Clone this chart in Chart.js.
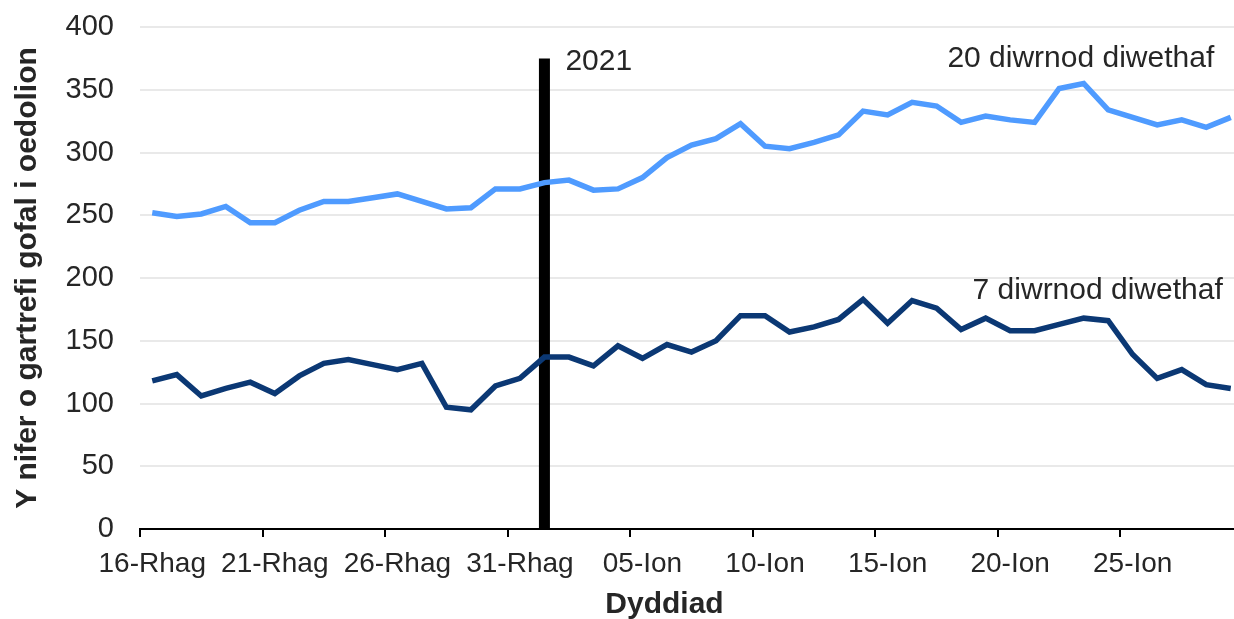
<!DOCTYPE html>
<html lang="cy">
<head>
    <meta charset="UTF-8">
    <title>Cartrefi gofal i oedolion</title>
    <script src="https://cdn.jsdelivr.net/npm/chart.js"></script>
    <style>
        html, body { margin: 0; padding: 0; background: #fff; overflow: hidden; }
        #wrap { position: relative; width: 1234px; height: 619px; overflow: hidden; }
        canvas { display: block; }
    </style>
</head>
<body>
<div id="wrap">
    <canvas id="chart" width="1243" height="619"></canvas>
</div>
<script>
// dyddiadau: 16 Rhagfyr 2020 - 29 Ionawr 2021
const dates = [
    "16-Rhag", "17-Rhag", "18-Rhag", "19-Rhag", "20-Rhag", "21-Rhag", "22-Rhag", "23-Rhag",
    "24-Rhag", "25-Rhag", "26-Rhag", "27-Rhag", "28-Rhag", "29-Rhag", "30-Rhag", "31-Rhag",
    "01-Ion", "02-Ion", "03-Ion", "04-Ion", "05-Ion", "06-Ion", "07-Ion", "08-Ion", "09-Ion",
    "10-Ion", "11-Ion", "12-Ion", "13-Ion", "14-Ion", "15-Ion", "16-Ion", "17-Ion", "18-Ion",
    "19-Ion", "20-Ion", "21-Ion", "22-Ion", "23-Ion", "24-Ion", "25-Ion", "26-Ion", "27-Ion",
    "28-Ion", "29-Ion"
];

const last20Days = [
    252, 249, 251, 257, 244, 244, 254, 261, 261, 264, 267, 261, 255, 256, 271, 271,
    276, 278, 270, 271, 280, 296, 306, 311, 323, 305, 303, 308, 314, 333, 330, 340,
    337, 324, 329, 326, 324, 351, 355, 334, 328, 322, 326, 320, 328
];

const last7Days = [
    118, 123, 106, 112, 117, 108, 122, 132, 135, 131, 127, 132, 97, 95, 114, 120,
    137, 137, 130, 146, 136, 147, 141, 150, 170, 170, 157, 161, 167, 183, 164, 182,
    176, 159, 168, 158, 158, 163, 168, 166, 139, 120, 127, 115, 112
];

const yearMarkDate = "01-Ion";
const yearMarkTop = 375;

const textColour = "#262626";

// labeli ar y graff
const notesPlugin = {
    id: "notes",
    afterDatasetsDraw(chart) {
        const ctx = chart.ctx;
        const x = chart.scales.x;
        const y = chart.scales.y;
        ctx.save();
        ctx.fillStyle = textColour;
        ctx.textBaseline = "middle";
        ctx.font = "30px 'Liberation Sans', Arial, sans-serif";

        ctx.textAlign = "left";
        ctx.fillText("2021", x.getPixelForValue(16) + 21, y.getPixelForValue(372));

        ctx.textAlign = "right";
        ctx.fillText("20 diwrnod diwethaf", x.getPixelForValue(43) + 8, y.getPixelForValue(375));
        ctx.fillText("7 diwrnod diwethaf", x.getPixelForValue(44) - 8, y.getPixelForValue(190));

        // teitl echel x
        ctx.textAlign = "center";
        ctx.font = "bold 30px 'Liberation Sans', Arial, sans-serif";
        ctx.fillText("Dyddiad", (chart.chartArea.left + chart.chartArea.right) / 2 - 27, chart.height - 14);
        ctx.restore();
    }
};

new Chart(document.getElementById("chart").getContext("2d"), {
    type: "line",
    data: {
        labels: dates,
        datasets: [
            {
                label: "20 diwrnod diwethaf",
                data: last20Days,
                borderColor: "#4f9bff",
                borderWidth: 5.5,
                pointRadius: 0,
                tension: 0
            },
            {
                label: "7 diwrnod diwethaf",
                data: last7Days,
                borderColor: "#0b3874",
                borderWidth: 5.5,
                pointRadius: 0,
                tension: 0
            },
            {
                label: "2021",
                data: [{ x: yearMarkDate, y: 0 }, { x: yearMarkDate, y: yearMarkTop }],
                borderColor: "#000000",
                borderWidth: 11,
                borderCapStyle: "butt",
                pointRadius: 0
            }
        ]
    },
    options: {
        responsive: false,
        animation: false,
        layout: { padding: { top: 27, left: 0, right: 0, bottom: 0 } },
        plugins: {
            legend: { display: false },
            tooltip: { enabled: false }
        },
        scales: {
            x: {
                offset: true,
                grid: {
                    offset: true,
                    drawOnChartArea: false,
                    drawTicks: true,
                    tickLength: 8,
                    lineWidth: 2,
                    color: (c) => (c.index % 5 === 0 ? "#000000" : "rgba(0,0,0,0)")
                },
                border: { display: true, color: "#000000", width: 2 },
                ticks: {
                    autoSkip: false,
                    maxRotation: 0,
                    padding: 10,
                    color: textColour,
                    font: { family: "'Liberation Sans', Arial, sans-serif", size: 28 },
                    callback: function (value, index) {
                        return index % 5 === 0 ? this.getLabelForValue(value) : "";
                    }
                },
                afterFit: (scale) => { scale.height = 90; }
            },
            y: {
                min: 0,
                max: 400,
                ticks: {
                    stepSize: 50,
                    padding: 0,
                    color: textColour,
                    font: { family: "'Liberation Sans', Arial, sans-serif", size: 29 }
                },
                grid: {
                    color: "#e9e9e9",
                    lineWidth: 2,
                    drawTicks: true,
                    tickLength: 26,
                    tickColor: "rgba(0,0,0,0)"
                },
                border: { display: false },
                title: {
                    display: true,
                    text: "Y nifer o gartrefi gofal i oedolion",
                    color: textColour,
                    padding: { top: 10, bottom: 0 },
                    font: { family: "'Liberation Sans', Arial, sans-serif", size: 30, weight: "bold" }
                },
                afterFit: (scale) => { scale.width = 140; }
            }
        }
    },
    plugins: [notesPlugin]
});
</script>
</body>
</html>
